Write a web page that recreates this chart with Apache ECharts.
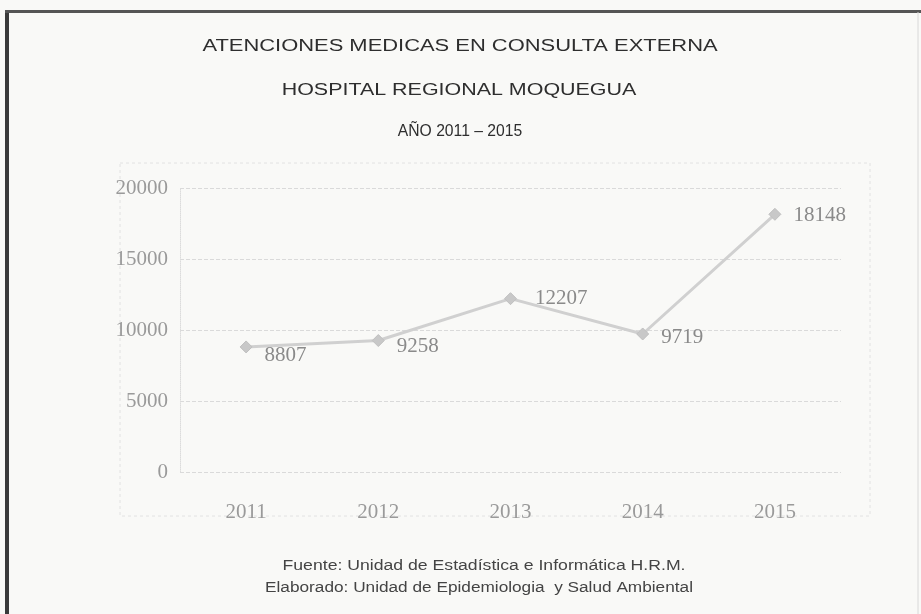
<!DOCTYPE html>
<html>
<head>
<meta charset="utf-8">
<script src="https://cdn.jsdelivr.net/npm/echarts@6/dist/echarts.min.js"></script>
<style>
  html, body { margin: 0; padding: 0; background: #f9f9f7; }
  #chart { width: 921px; height: 614px; }
</style>
</head>
<body>
<div id="chart"></div>
<script>
const years = ['2011', '2012', '2013', '2014', '2015'];
const atenciones = [8807, 9258, 12207, 9719, 18148];
const labelOffsets = [[0, 9], [0, 6], [6, 0], [0, 3], [0, 1]];
const titleLines = [
  'ATENCIONES MEDICAS EN CONSULTA EXTERNA',
  'HOSPITAL REGIONAL MOQUEGUA',
  'AÑO 2011 – 2015'
];
const footerLines = [
  'Fuente: Unidad de Estadística e Informática H.R.M.',
  'Elaborado: Unidad de Epidemiologia  y Salud Ambiental'
];

const chart = echarts.init(document.getElementById('chart'));

const serifFont = 'Liberation Serif';
const gray = '#9a9a9a';

function centeredText(text, x, y, size, scaleX, color) {
  return {
    type: 'text',
    x: x, y: y,
    scaleX: scaleX,
    style: {
      text: text,
      x: 0, y: 0,
      align: 'center',
      verticalAlign: 'middle',
      fontFamily: 'Liberation Sans',
      fontSize: size,
      fill: color
    }
  };
}

chart.setOption({
  backgroundColor: '#f9f9f7',
  animation: false,
  grid: { left: 180, right: 80, top: 188, bottom: 142 },
  xAxis: {
    type: 'category',
    data: years,
    boundaryGap: true,
    axisLine: { show: false },
    axisTick: { show: false },
    axisLabel: { fontFamily: serifFont, fontSize: 21, color: gray, margin: 30 }
  },
  yAxis: {
    type: 'value',
    min: 0, max: 20000, interval: 5000,
    axisLine: { show: true, lineStyle: { color: '#dcdcdc', type: 'dotted', width: 1 } },
    axisTick: { show: false },
    axisLabel: { fontFamily: serifFont, fontSize: 21, color: gray, margin: 12, formatter: v => String(v) },
    splitLine: { show: true, lineStyle: { color: '#dadada', type: 'dashed', width: 1 } }
  },
  series: [{
    type: 'line',
    data: atenciones.map((v, i) => ({
      value: v,
      label: { offset: labelOffsets[i] }
    })),
    lineStyle: { color: '#d0d0d0', width: 3 },
    itemStyle: { color: '#c8c8c8', borderColor: '#c0c0c0', borderWidth: 1 },
    symbol: 'diamond',
    symbolSize: 12,
    label: {
      show: true,
      position: 'right',
      distance: 12,
      fontFamily: serifFont,
      fontSize: 21,
      color: '#8a8a8a'
    }
  }],
  graphic: [
    // outer frame
    { type: 'rect', shape: { x: 5, y: 10, width: 4, height: 610 }, style: { fill: '#3a3a3a' } },
    { type: 'rect', shape: { x: 5, y: 10, width: 916, height: 3 }, style: { fill: '#555' } },
    { type: 'line', shape: { x1: 918, y1: 12, x2: 918, y2: 614 }, style: { stroke: '#d8d8d8', lineWidth: 1 } },
    // inner chart box
    { type: 'rect', shape: { x: 120, y: 163, width: 750, height: 353 },
      style: { fill: 'none', stroke: '#e2e2e2', lineWidth: 1, lineDash: [3, 3] } },
    centeredText(titleLines[0], 460, 47, 16, 1.37, '#2e2e2e'),
    centeredText(titleLines[1], 459, 91, 16, 1.34, '#2e2e2e'),
    centeredText(titleLines[2], 460, 132, 16, 0.98, '#2e2e2e'),
    centeredText(footerLines[0], 484, 566, 14, 1.26, '#444'),
    centeredText(footerLines[1], 479, 588, 14, 1.23, '#444')
  ]
});

window.addEventListener('resize', () => chart.resize());
</script>
</body>
</html>
